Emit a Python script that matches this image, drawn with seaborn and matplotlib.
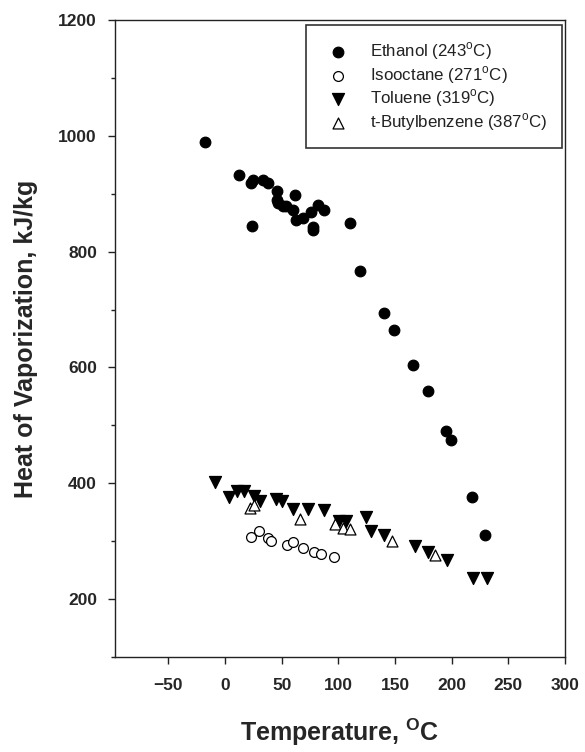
import matplotlib
matplotlib.use("Agg")
import matplotlib.pyplot as plt
from matplotlib.ticker import MultipleLocator, FixedLocator
import seaborn as sns
import pandas as pd

# Heat of vaporization vs. temperature for four fuels (critical temperature in legend)
ethanol_t = [-18, 12, 23, 25, 34, 38, 46, 46, 47, 51, 54, 60, 62, 63, 69, 76, 78, 78,
             82, 87, 24, 110, 119, 140, 149, 166, 179, 195, 199, 218, 229]
ethanol_h = [990, 933, 918, 924, 924, 918, 904, 889, 884, 878, 878, 872, 898, 855, 858,
             869, 843, 838, 881, 872, 845, 850, 766, 694, 664, 605, 559, 491, 474, 376, 310]

isooctane_t = [23, 30, 38, 41, 55, 60, 69, 79, 85, 96]
isooctane_h = [308, 318, 305, 300, 294, 299, 288, 282, 278, 273]

toluene_t = [-9, 4, 11, 17, 26, 31, 45, 50, 60, 73, 87, 101, 107, 124, 129, 140,
             168, 179, 196, 219, 231]
toluene_h = [403, 376, 386, 386, 378, 369, 372, 369, 355, 355, 353, 334, 334, 342,
             317, 311, 291, 281, 268, 237, 237]

butyl_t = [22, 26, 66, 97, 104, 110, 147, 185]
butyl_h = [357, 363, 339, 329, 323, 321, 300, 277]

labels = [r"Ethanol (243$^{\rm o}$C)", r"Isooctane (271$^{\rm o}$C)",
          r"Toluene (319$^{\rm o}$C)", r"t-Butylbenzene (387$^{\rm o}$C)"]

x_ticks = [-50, 0, 50, 100, 150, 200, 250, 300]
y_ticks = [200, 400, 600, 800, 1000, 1200]

sns.set_style("ticks")
plt.rcParams["font.family"] = ["Liberation Sans", "DejaVu Sans"]
plt.rcParams["mathtext.fontset"] = "custom"
plt.rcParams["mathtext.rm"] = "Liberation Sans"
plt.rcParams["mathtext.bf"] = "Liberation Sans:bold"

fig = plt.figure(figsize=(5.85, 7.52), dpi=100)
ax = fig.add_axes([115 / 585, 1 - 657 / 752, 450 / 585, 637 / 752])

series = [
    (ethanol_t, ethanol_h, "o", "black", 58),
    (isooctane_t, isooctane_h, "o", "white", 50),
    (toluene_t, toluene_h, "v", "black", 75),
    (butyl_t, butyl_h, "^", "white", 62),
]
for (t, h, mk, fc, s), lab in zip(series, labels):
    df = pd.DataFrame({"t": t, "h": h})
    sns.scatterplot(data=df, x="t", y="h", ax=ax, marker=mk, s=s,
                    facecolor=fc, edgecolor="black", linewidth=0.9,
                    label=lab, zorder=3)

ax.set_xlim(-97, 300)
ax.set_ylim(100, 1200)
ax.xaxis.set_major_locator(FixedLocator(x_ticks))
ax.yaxis.set_major_locator(FixedLocator(y_ticks))
ax.yaxis.set_minor_locator(MultipleLocator(100))

for sp in ax.spines.values():
    sp.set_visible(True)
    sp.set_color("#222222")
    sp.set_linewidth(1.0)

ax.tick_params(axis="both", which="major", direction="out", length=5, width=1,
               color="#222222", labelsize=12.5)
ax.tick_params(axis="x", which="major", pad=10)
ax.tick_params(axis="y", which="major", pad=8)
ax.tick_params(axis="y", which="minor", direction="out", length=3, width=1,
               color="#222222")
for lbl in ax.get_xticklabels() + ax.get_yticklabels():
    lbl.set_fontweight("bold")

ax.set_xlabel(r"Temperature, $^{\bf O}$C", fontsize=18, fontweight="bold")
ax.set_ylabel("Heat of Vaporization, kJ/kg", fontsize=18, fontweight="bold")
ax.yaxis.set_label_coords(-0.17, 0.5)
ax.xaxis.set_label_coords(0.5, -0.094)

leg = ax.legend(loc="upper right", bbox_to_anchor=(562 / 585, 1 - 25 / 752),
                bbox_transform=fig.transFigure, fontsize=12.2, frameon=True,
                fancybox=False, borderpad=0.9, labelspacing=0.12,
                handlelength=1.95, handletextpad=0.9, borderaxespad=0)
leg.get_frame().set_edgecolor("black")
leg.get_frame().set_linewidth(1.2)
for txt in leg.get_texts():
    txt.set_color("#222222")

fig.savefig("out.png", dpi=100)
